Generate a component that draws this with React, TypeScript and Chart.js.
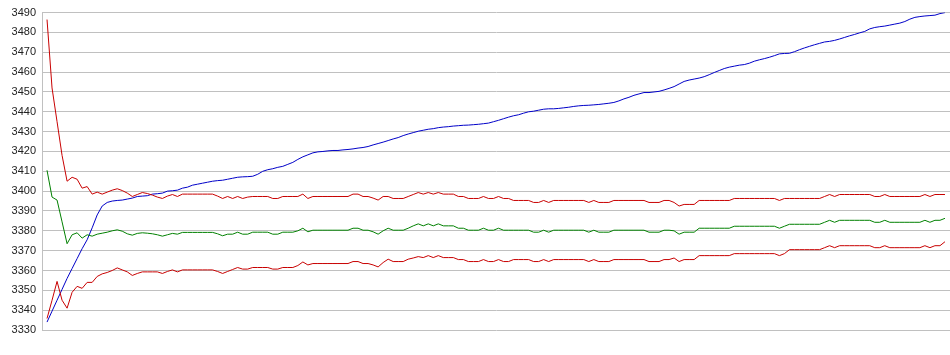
import React, { useEffect, useRef } from "react";
import { Chart, registerables } from "chart.js";

Chart.register(...registerables);

// y-axis ticks
const yMin = 3330;
const yMax = 3490;
const yStep = 10;

// upper red band
const upperRed = [
  3486.5, 3452, 3435, 3418, 3405, 3407, 3406, 3401.5, 3402.3, 3398.5,
  3399.5, 3398.5, 3399.5, 3400.5, 3401.2, 3400.3, 3399, 3397.3, 3398.3, 3399.3,
  3398.8, 3398, 3397, 3396.3, 3397.5, 3398.3, 3397.3, 3398.5, 3398.5, 3398.5,
  3398.5, 3398.5, 3398.5, 3398.5, 3397.5, 3396.3, 3397.3, 3396.3, 3397.3, 3396.3,
  3397, 3397.3, 3397.3, 3397.3, 3397.3, 3396.3, 3396.3, 3397.3, 3397.3, 3397.3,
  3397.3, 3398.5, 3396.3, 3397.3, 3397.3, 3397.3, 3397.3, 3397.3, 3397.3, 3397.3,
  3397.3, 3398.5, 3398.5, 3397.3, 3397.3, 3396.5, 3395.5, 3397.3, 3397.3, 3396.3,
  3396.3, 3396.3, 3397.3, 3398.3, 3399.3, 3398.5, 3399.3, 3398.5, 3399.3, 3398.5,
  3398.5, 3398.5, 3397.3, 3397.3, 3396.3, 3396.3, 3396.3, 3397.3, 3396.3, 3396.3,
  3397.3, 3396.3, 3396.3, 3395.3, 3395.3, 3395.3, 3395.3, 3394.3, 3394.3, 3395.3,
  3394.3, 3395.3, 3395.3, 3395.3, 3395.3, 3395.3, 3395.3, 3395.3, 3394.3, 3395.3,
  3394.3, 3394.3, 3394.3, 3395.3, 3395.3, 3395.3, 3395.3, 3395.3, 3395.3, 3395.3,
  3394.3, 3394.3, 3394.3, 3395.3, 3395.3, 3394.3, 3392.5, 3393.3, 3393.3, 3393.3,
  3395.3, 3395.3, 3395.3, 3395.3, 3395.3, 3395.3, 3395.3, 3396.3, 3396.3, 3396.3,
  3396.3, 3396.3, 3396.3, 3396.3, 3396.3, 3396.3, 3395.3, 3396.3, 3396.3, 3396.3,
  3396.3, 3396.3, 3396.3, 3396.3, 3396.3, 3397.3, 3398.3, 3397.3, 3398.3, 3398.3,
  3398.3, 3398.3, 3398.3, 3398.3, 3398.3, 3397.3, 3397.3, 3398.3, 3397.3, 3397.3,
  3397.3, 3397.3, 3397.3, 3397.3, 3397.3, 3398.3, 3397.3, 3398.3, 3398.3, 3398.3,
];

// middle green line
const middleGreen = [
  3410.5, 3397, 3395.5, 3384.5, 3373.5, 3378, 3379, 3376.3, 3378, 3377.3,
  3378.3, 3378.8, 3379.3, 3380, 3380.5, 3379.8, 3378.5, 3377.8, 3378.7, 3379,
  3378.8, 3378.5, 3378, 3377.3, 3378, 3378.7, 3378.3, 3379.2, 3379.2, 3379.2,
  3379.2, 3379.2, 3379.2, 3379.2, 3378.5, 3377.5, 3378.3, 3378.3, 3379.3, 3378.3,
  3378.3, 3379.3, 3379.3, 3379.3, 3379.3, 3378.3, 3378.3, 3379.3, 3379.3, 3379.3,
  3380, 3381.3, 3379.5, 3380.3, 3380.3, 3380.3, 3380.3, 3380.3, 3380.3, 3380.3,
  3380.3, 3381.3, 3381.3, 3380.3, 3380.3, 3379.5, 3378.3, 3380, 3381.3, 3380.3,
  3380.3, 3380.3, 3381.3, 3382.5, 3383.5, 3382.5, 3383.5, 3382.5, 3383.5, 3382.5,
  3382.5, 3382.5, 3381.3, 3381.3, 3380.3, 3380.3, 3380.3, 3381.3, 3380.3, 3380.3,
  3381.3, 3380.3, 3380.3, 3380.3, 3380.3, 3380.3, 3380.3, 3379.3, 3379.3, 3380.3,
  3379.3, 3380.3, 3380.3, 3380.3, 3380.3, 3380.3, 3380.3, 3380.3, 3379.3, 3380.3,
  3379.3, 3379.3, 3379.3, 3380.3, 3380.3, 3380.3, 3380.3, 3380.3, 3380.3, 3380.3,
  3379.3, 3379.3, 3379.3, 3380.3, 3380.3, 3380, 3378.3, 3379.3, 3379.3, 3379.3,
  3381.3, 3381.3, 3381.3, 3381.3, 3381.3, 3381.3, 3381.3, 3382.3, 3382.3, 3382.3,
  3382.3, 3382.3, 3382.3, 3382.3, 3382.3, 3382.3, 3381.3, 3382.3, 3383.3, 3383.3,
  3383.3, 3383.3, 3383.3, 3383.3, 3383.3, 3384.3, 3385.3, 3384.3, 3385.3, 3385.3,
  3385.3, 3385.3, 3385.3, 3385.3, 3385.3, 3384.3, 3384.3, 3385.3, 3384.3, 3384.3,
  3384.3, 3384.3, 3384.3, 3384.3, 3384.3, 3385.3, 3384.3, 3385.3, 3385.3, 3386.3,
];

// lower red band
const lowerRed = [
  3335.8, 3345, 3354.5, 3345, 3341, 3349, 3352, 3351, 3354, 3354,
  3357, 3358.3, 3359, 3360, 3361.3, 3360.3, 3359.3, 3357.5, 3358.5, 3359.3,
  3359.3, 3359.3, 3359.3, 3358.5, 3359.5, 3360.3, 3359.3, 3360.3, 3360.3, 3360.3,
  3360.3, 3360.3, 3360.3, 3360.3, 3359.5, 3358.5, 3359.5, 3360.5, 3361.5, 3360.7,
  3360.7, 3361.5, 3361.5, 3361.5, 3361.5, 3360.7, 3360.7, 3361.5, 3361.5, 3361.5,
  3362.5, 3364.3, 3362.8, 3363.5, 3363.5, 3363.5, 3363.5, 3363.5, 3363.5, 3363.5,
  3363.5, 3364.5, 3364.5, 3363.5, 3363.5, 3362.8, 3361.8, 3364, 3365.7, 3364.5,
  3364.5, 3364.5, 3365.7, 3366.3, 3367, 3366.5, 3367.5, 3366.5, 3367.5, 3366.5,
  3366.5, 3366.5, 3365.5, 3365.5, 3364.5, 3364.5, 3364.5, 3365.5, 3364.5, 3364.5,
  3365.5, 3364.5, 3364.5, 3365.5, 3365.5, 3365.5, 3365.5, 3364.5, 3364.5, 3365.5,
  3364.5, 3365.5, 3365.5, 3365.5, 3365.5, 3365.5, 3365.5, 3365.5, 3364.5, 3365.5,
  3364.5, 3364.5, 3364.5, 3365.5, 3365.5, 3365.5, 3365.5, 3365.5, 3365.5, 3365.5,
  3364.5, 3364.5, 3364.5, 3365.5, 3365.5, 3366.3, 3364.5, 3365.5, 3365.5, 3365.5,
  3367.5, 3367.5, 3367.5, 3367.5, 3367.5, 3367.5, 3367.5, 3368.5, 3368.5, 3368.5,
  3368.5, 3368.5, 3368.5, 3368.5, 3368.5, 3368.5, 3367.5, 3368.5, 3370.5, 3370.5,
  3370.5, 3370.5, 3370.5, 3370.5, 3370.5, 3371.5, 3372.5, 3371.5, 3372.5, 3372.5,
  3372.5, 3372.5, 3372.5, 3372.5, 3372.5, 3371.5, 3371.5, 3372.5, 3371.5, 3371.5,
  3371.5, 3371.5, 3371.5, 3371.5, 3371.5, 3372.5, 3371.5, 3372.5, 3372.5, 3374.5,
];

// rising blue line
const risingBlue = [
  3334, 3339.5, 3345, 3350.5, 3356, 3361, 3366, 3371, 3375.5, 3381.5,
  3388, 3392.5, 3394.3, 3395, 3395.3, 3395.5, 3396, 3396.5, 3397.3, 3397.5,
  3397.7, 3398.5, 3398.7, 3399, 3400, 3400.2, 3400.5, 3401.5, 3402, 3403,
  3403.5, 3404, 3404.5, 3405, 3405.3, 3405.5, 3406, 3406.5, 3407, 3407.2,
  3407.3, 3407.5, 3408.5, 3410, 3410.8, 3411.3, 3412, 3412.5, 3413.5, 3414.5,
  3416, 3417.3, 3418.3, 3419.3, 3419.8, 3420, 3420.3, 3420.5, 3420.5, 3420.8,
  3421, 3421.3, 3421.7, 3422, 3422.5, 3423.3, 3424, 3424.7, 3425.5, 3426.3,
  3427, 3428, 3428.8, 3429.5, 3430.2, 3430.7, 3431.2, 3431.5, 3432, 3432.3,
  3432.5, 3432.8, 3433, 3433.2, 3433.3, 3433.5, 3433.7, 3434, 3434.3, 3435,
  3435.7, 3436.5, 3437.3, 3438, 3438.5, 3439.3, 3440, 3440.3, 3440.8, 3441.3,
  3441.5, 3441.5, 3441.7, 3442, 3442.3, 3442.7, 3443, 3443.2, 3443.3, 3443.5,
  3443.7, 3444, 3444.3, 3444.7, 3445.5, 3446.5, 3447.3, 3448.3, 3449, 3449.7,
  3449.7, 3450, 3450.3, 3451, 3451.8, 3452.7, 3454, 3455.3, 3456, 3456.5,
  3457, 3457.7, 3458.7, 3459.8, 3460.8, 3461.8, 3462.5, 3463, 3463.5, 3463.8,
  3464.5, 3465.5, 3466.2, 3466.8, 3467.5, 3468.3, 3469.2, 3469.4, 3469.5, 3470.3,
  3471.3, 3472.2, 3473, 3473.8, 3474.5, 3475.2, 3475.5, 3476, 3476.7, 3477.5,
  3478.3, 3479, 3479.8, 3480.5, 3481.8, 3482.5, 3482.9, 3483.2, 3483.7, 3484.2,
  3484.7, 3485.5, 3486.7, 3487.6, 3488, 3488.3, 3488.5, 3488.7, 3489.5, 3490,
];

const toPoints = (vals: number[]) => vals.map((y, i) => ({ x: i, y }));

export default function App() {
  const ref = useRef<HTMLCanvasElement | null>(null);

  useEffect(() => {
    document.body.style.margin = "0";
    const canvas = ref.current;
    if (!canvas) return;
    const lineDs = (label: string, vals: number[], color: string) => ({
      label,
      data: toPoints(vals),
      borderColor: color,
      backgroundColor: color,
      borderWidth: 1,
      pointRadius: 0,
      tension: 0,
      fill: false,
    });
    const chart = new Chart(canvas, {
      type: "line",
      data: {
        datasets: [
          lineDs("upper", upperRed, "#c80000"),
          lineDs("mean", middleGreen, "#008000"),
          lineDs("lower", lowerRed, "#c80000"),
          lineDs("cumulative", risingBlue, "#0000c8"),
        ],
      },
      options: {
        animation: false,
        responsive: false,
        maintainAspectRatio: false,
        layout: { padding: { top: 10, bottom: 25, left: 0, right: 0 } },
        plugins: {
          legend: { display: false },
          tooltip: { enabled: false },
        },
        scales: {
          x: {
            type: "linear",
            min: -1,
            max: upperRed.length,
            display: false,
          },
          y: {
            min: yMin,
            max: yMax,
            afterFit: (scale: any) => {
              scale.width = 42;
            },
            ticks: {
              stepSize: yStep,
              padding: 6,
              color: "#222222",
              callback: (v: any) => String(v),
              font: { family: "'Liberation Sans', Arial, sans-serif", size: 11 },
            },
            grid: {
              color: "#c0c0c0",
              lineWidth: 1,
              drawTicks: false,
            },
            border: { display: true, color: "#c0c0c0", width: 1 },
          },
        },
      },
    } as any);
    return () => chart.destroy();
  }, []);

  return (
    <div style={{ position: "absolute", left: 0, top: 0, width: 950, height: 355 }}>
      <canvas ref={ref} width={950} height={355} style={{ display: "block" }} />
    </div>
  );
}
